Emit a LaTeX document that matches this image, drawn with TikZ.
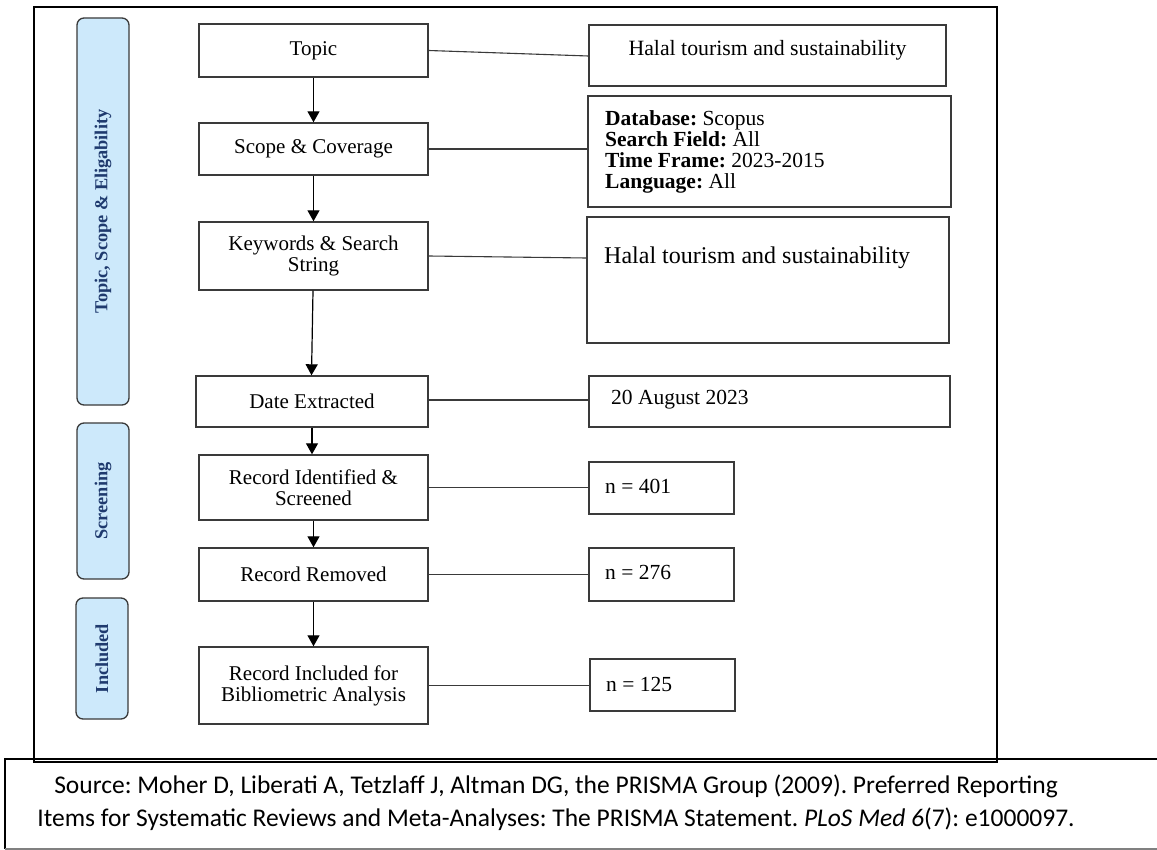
\documentclass[tikz,border=0pt]{standalone}
\usepackage{fontspec}
\setmainfont{Liberation Serif}
\newfontfamily\srcfont{Carlito}
\usetikzlibrary{arrows.meta}
\definecolor{sidefill}{HTML}{CDE9FB}
\definecolor{sidetext}{HTML}{1F3A6E}
\definecolor{boxline}{HTML}{3A3A3A}
\frenchspacing
\begin{document}
\begin{tikzpicture}[x=1pt,y=-1pt,
  flowbox/.style={draw=boxline,line width=1.4pt,fill=white,inner sep=2pt,align=center,
    font=\fontsize{21}{21}\selectfont},
  infobox/.style={draw=boxline,line width=1.4pt,inner sep=0pt},
  infotext/.style={anchor=west,inner sep=0pt,align=left,font=\fontsize{21.5}{21}\selectfont},
  sidebox/.style={draw=boxline,line width=1.3pt,fill=sidefill,rounded corners=7pt,inner sep=0pt},
  sidetxt/.style={rotate=90,text=sidetext,inner sep=0pt,font=\fontsize{18.3}{20}\selectfont\bfseries},
  flowarrow/.style={draw=black,line width=1.2pt,-{Triangle[width=12pt,length=11pt]}},
  link/.style={draw=boxline,line width=1.1pt}]
\useasboundingbox (0,0) rectangle (1157,850);
\fill[white] (0,0) rectangle (1157,850);
% outer frame
\draw[line width=2.8pt] (34,7) rectangle (997,762);
% source box
\draw[line width=2.2pt] (1160,759) -- (5,759) -- (5,849);
\draw[line width=1.2pt,gray] (5,849) -- (1160,849);
\node[inner sep=0pt,align=center,font=\srcfont\fontsize{25.5}{33}\selectfont] (src) at (556,803)
  {Source: Moher D, Liberati A, Tetzlaff J, Altman DG, the PRISMA Group (2009). Preferred Reporting\\
   Items for Systematic Reviews and Meta-Analyses: The PRISMA Statement. \textit{PLoS Med 6}(7): e1000097.};
% side labels
\node[sidebox,minimum width=52pt,minimum height=387pt] (s1) at (103,211.5) {};
\node[sidetxt] (s1t) at (s1.center) {Topic, Scope \& Eligability};
\node[sidebox,minimum width=52pt,minimum height=156pt] (s2) at (103,501) {};
\node[sidetxt] (s2t) at (s2.center) {Screening};
\node[sidebox,minimum width=52pt,minimum height=121pt] (s3) at (102,658.5) {};
\node[sidetxt] (s3t) at (s3.center) {Included};
% flow boxes
\node[flowbox,minimum width=229pt,minimum height=53pt] (topic) at (313.5,50.5) {Topic};
\node[flowbox,minimum width=229pt,minimum height=52pt] (scope) at (313.5,149) {Scope \& Coverage};
\node[flowbox,minimum width=229pt,minimum height=68pt] (kw) at (313.5,256) {Keywords \& Search\\String};
\node[flowbox,minimum width=232pt,minimum height=51pt] (date) at (312,401.5) {Date Extracted};
\node[flowbox,minimum width=229pt,minimum height=65pt] (recid) at (313.5,487.5) {Record Identified \&\\Screened};
\node[flowbox,minimum width=229pt,minimum height=53pt] (recrem) at (313.5,574.5) {Record Removed};
\node[flowbox,minimum width=229pt,minimum height=77pt] (recinc) at (313.5,685.5) {Record Included for\\Bibliometric Analysis};
% info boxes
\node[infobox,minimum width=357pt,minimum height=61pt] (halal1) at (767.5,55.5) {};
\node[inner sep=0pt,font=\fontsize{21.8}{21}\selectfont] (halal1t) at (767.5,50) {Halal tourism and sustainability};
\node[infobox,minimum width=363pt,minimum height=111pt] (db) at (769.5,151.5) {};
\node[infotext] (dbt) at (605,152) {\textbf{Database:} Scopus\\\textbf{Search Field:} All\\\textbf{Time Frame:} 2023-2015\\\textbf{Language:} All};
\node[infobox,minimum width=362pt,minimum height=126pt] (halal2) at (768,280) {};
\node[infotext,font=\fontsize{24}{24}\selectfont] (halal2t) at (604,258) {Halal tourism and sustainability};
\node[infobox,minimum width=361pt,minimum height=51pt] (dval) at (769.5,401.5) {};
\node[infotext] (dvalt) at (611,400) {20 August 2023};
\node[infobox,minimum width=145pt,minimum height=52pt] (n1) at (661.5,488) {};
\node[infotext] (n1t) at (605,486) {n = 401};
\node[infobox,minimum width=145pt,minimum height=53pt] (n2) at (661.5,574.5) {};
\node[infotext] (n2t) at (605,572) {n = 276};
\node[infobox,minimum width=145pt,minimum height=52pt] (n3) at (662.5,685) {};
\node[infotext] (n3t) at (606,684) {n = 125};
% arrows
\draw[flowarrow] (topic.south) -- (scope.north);
\draw[flowarrow] (scope.south) -- (kw.north);
\draw[flowarrow] ([xshift=-0.5pt]kw.south) -- ([xshift=-0.5pt]date.north);
\draw[flowarrow] (date.south) -- ([xshift=-1.5pt]recid.north);
\draw[flowarrow] (recid.south) -- (recrem.north);
\draw[flowarrow] (recrem.south) -- (recinc.north);
% links
\draw[link] (topic.east) -- ([yshift=-5.5pt]topic.east -| halal1.west);
\draw[link] (scope.east) -- (scope.east -| db.west);
\draw[link] (kw.east) -- ([yshift=-2pt]kw.east -| halal2.west);
\draw[link] ([yshift=1.5pt]date.east) -- ([yshift=1.5pt]date.east -| dval.west);
\draw[link] (recid.east) -- (recid.east -| n1.west);
\draw[link] (recrem.east) -- (recrem.east -| n2.west);
\draw[link] (recinc.east) -- (recinc.east -| n3.west);
\end{tikzpicture}
\end{document}
